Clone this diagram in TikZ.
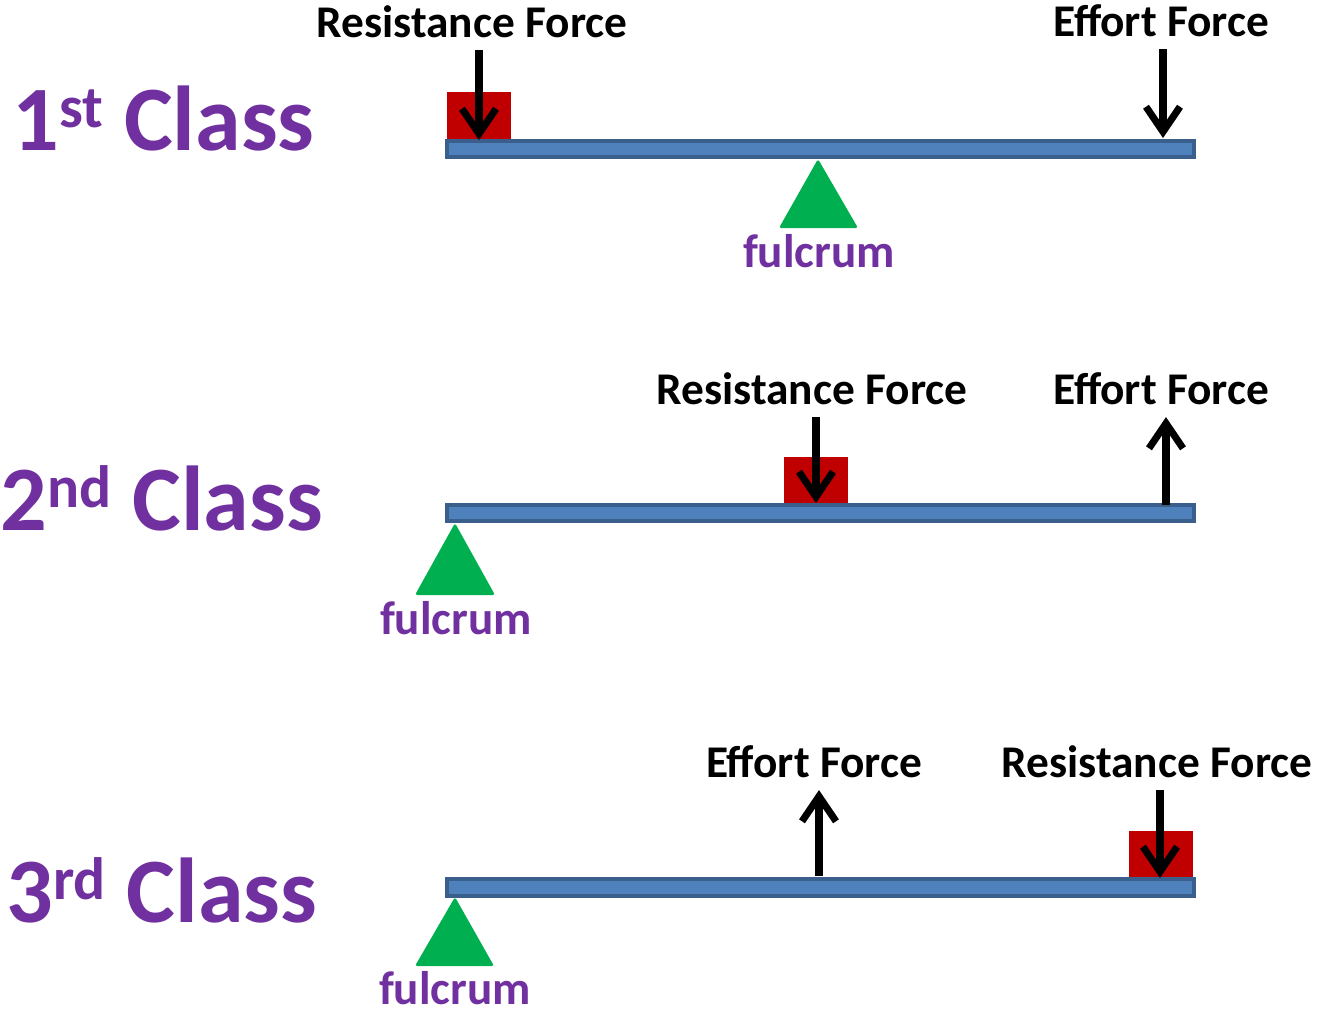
\documentclass[tikz,border=0pt]{standalone}
\usepackage{fontspec}
\setmainfont{Carlito}
\usetikzlibrary{arrows.meta,positioning}
\definecolor{beamblue}{HTML}{4F81BD}
\definecolor{beamedge}{HTML}{3A5F8C}
\definecolor{loadred}{HTML}{C00000}
\definecolor{pivotgreen}{HTML}{00B050}
\definecolor{classpurple}{HTML}{7030A0}

\newcommand{\ordsup}[1]{\raisebox{6.5pt}{\fontsize{17}{17}\selectfont #1}}

\tikzset{
  force/.style={black,line width=2pt,shorten <=0.12cm,shorten >=0.12cm,
    -{Straight Barb[length=0.25cm,width=0.34cm]}},
  beam/.style={draw=beamedge,fill=beamblue,line width=1.1pt},
  weight/.style={fill=loadred},
  pivot/.style={fill=pivotgreen,rounded corners=0.5pt},
  forcelabel/.style={anchor=base,inner sep=0pt,font=\bfseries\fontsize{12.9}{14}\selectfont},
  pivotlabel/.style={anchor=base,inner sep=0pt,classpurple,font=\bfseries\fontsize{13.4}{15}\selectfont},
  classlabel/.style={anchor=base west,inner sep=0pt,classpurple,font=\bfseries\fontsize{26.2}{28}\selectfont}
}

\begin{document}
\begin{tikzpicture}[x=0.01cm,y=-0.01cm]
  \useasboundingbox (0,0) rectangle (1317,1011);

  % 1st class: fulcrum in the middle
  \node[classlabel] (class1) at (12,150) {1\ordsup{st} Class};
  \fill[weight] (447,92) rectangle (511,141);
  \draw[beam] (447,141) rectangle (1194,157);
  \fill[pivot] (818,159) -- (858,228) -- (779,228) -- cycle;
  \node[pivotlabel] (pivot1) at (819,267) {fulcrum};
  \node[forcelabel] (res1) at (472,37) {Resistance Force};
  \node[forcelabel] (eff1) at (1161,36) {Effort Force};
  \coordinate (restip1) at (479,140);
  \coordinate (efftip1) at (1163,138);
  \draw[force,shorten >=0pt] (res1.south -| restip1) -- (restip1);
  \draw[force,shorten >=0pt] (eff1.south -| efftip1) -- (efftip1);

  % 2nd class: load in the middle
  \node[classlabel] (class2) at (0,530) {2\ordsup{nd} Class};
  \fill[weight] (784,457) rectangle (848,505);
  \draw[beam] (447,505) rectangle (1194,521);
  \fill[pivot] (455,523) -- (495,595) -- (415,595) -- cycle;
  \node[pivotlabel] (pivot2) at (456,634) {fulcrum};
  \node[forcelabel] (res2) at (812,404) {Resistance Force};
  \node[forcelabel] (eff2) at (1161,404) {Effort Force};
  \coordinate (restip2) at (816,503);
  \coordinate (effbase2) at (1166,505);
  \draw[force,shorten >=0pt] (res2.south -| restip2) -- (restip2);
  \draw[force,shorten <=0pt] (effbase2) -- (eff2.south -| effbase2);

  % 3rd class: effort in the middle
  \node[classlabel] (class3) at (6,922) {3\ordsup{rd} Class};
  \fill[weight] (1129,831) rectangle (1193,879);
  \draw[beam] (447,879) rectangle (1194,896);
  \fill[pivot] (455,897) -- (494,966) -- (415,966) -- cycle;
  \node[pivotlabel] (pivot3) at (455,1004) {fulcrum};
  \node[forcelabel] (eff3) at (814,777) {Effort Force};
  \node[forcelabel] (res3) at (1157,777) {Resistance Force};
  \coordinate (effbase3) at (819,876);
  \coordinate (restip3) at (1160,878);
  \draw[force,shorten <=0pt] (effbase3) -- (eff3.south -| effbase3);
  \draw[force,shorten >=0pt] (res3.south -| restip3) -- (restip3);
\end{tikzpicture}
\end{document}
